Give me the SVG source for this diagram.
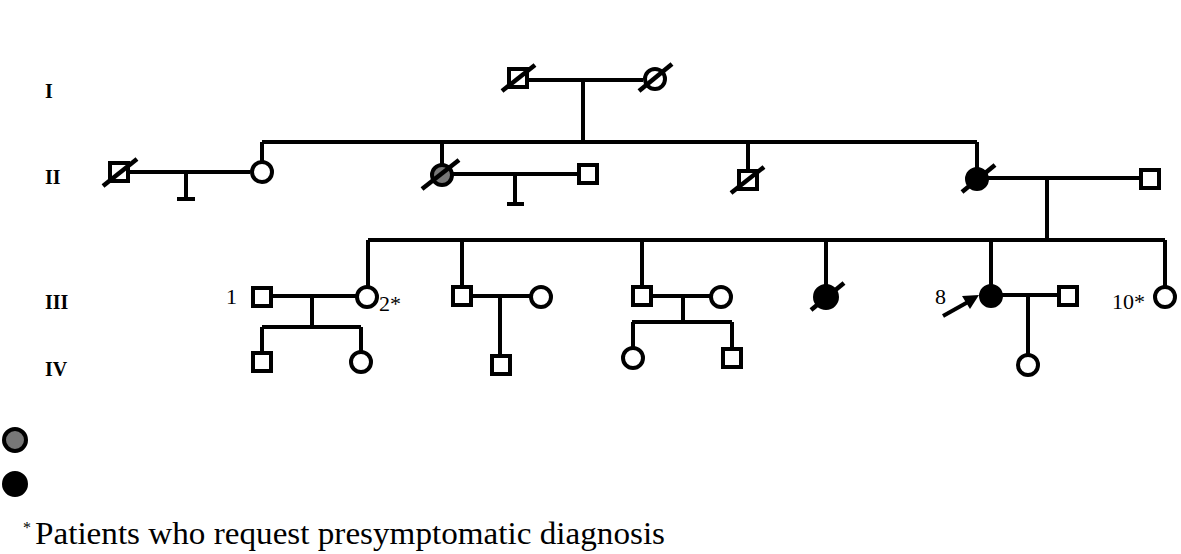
<svg xmlns="http://www.w3.org/2000/svg" width="1181" height="554" viewBox="0 0 1181 554">
<style>
.ln{stroke:#000;stroke-width:4;fill:none;stroke-linecap:butt}
.m{fill:#fff;stroke:#000;stroke-width:4}
.f{fill:#fff;stroke:#000;stroke-width:4}
.g{fill:#777;stroke:#000;stroke-width:4}
.b{fill:#000;stroke:#000;stroke-width:4}
.sl{stroke:#000;stroke-width:4.5;stroke-linecap:butt}
.gen{font-family:"Liberation Serif","Times New Roman",serif;font-weight:bold;font-size:20px;fill:#000}
.lab{font-family:"Liberation Serif","Times New Roman",serif;font-size:22px;fill:#000}
.leg{font-family:"Liberation Serif","Times New Roman",serif;fill:#000}
</style>
<rect width="1181" height="554" fill="#fff"/>
<g id="generations">
<text class="gen" x="45" y="98">I</text>
<text class="gen" x="45" y="184">II</text>
<text class="gen" x="45" y="309">III</text>
<text class="gen" x="45" y="376">IV</text>
</g>
<g id="connectors">
<path class="ln" d="M528 80 H643 M583 80 V142 M262 142 H977"/>
<path class="ln" d="M128 172 H250 M186 172 V199 M177 199 H195 M262 142 V162"/>
<path class="ln" d="M442 142 V165 M453 174 H577 M515 174 V204 M507 204 H524"/>
<path class="ln" d="M748 142 V171"/>
<path class="ln" d="M977 142 V168 M988 178 H1140 M1047 178 V240 M368 240 H1165"/>
<path class="ln" d="M368 240 V286 M462 240 V286 M642 240 V286 M826 240 V286 M991 240 V285 M1165 240 V286"/>
<path class="ln" d="M272 296 H356 M312 296 V327 M262 327 H361 M262 327 V352 M361 327 V351"/>
<path class="ln" d="M472 296 H530 M500 296 V355"/>
<path class="ln" d="M652 296 H710 M683 296 V322 M632 322 H732 M633 322 V347 M732 322 V349"/>
<path class="ln" d="M1002 295 H1058 M1028 295 V354"/>
<path class="ln" d="M943 316 L968 302"/>
<polygon points="979,295 962,296 970,309" fill="#000"/>
</g>
<g id="I-1"><rect class="m" x="509" y="69" width="18" height="18"/><line class="sl" x1="502" y1="91" x2="535" y2="65"/></g>
<g id="I-2"><circle class="f" cx="655" cy="79" r="10"/><line class="sl" x1="639" y1="91" x2="672" y2="64"/></g>
<g id="II-1"><rect class="m" x="110" y="163" width="18" height="18"/><line class="sl" x1="103" y1="186" x2="137" y2="159"/></g>
<g id="II-2"><circle class="f" cx="262" cy="172" r="10"/></g>
<g id="II-3"><circle class="g" cx="442" cy="175" r="10"/><line class="sl" x1="422" y1="189" x2="459" y2="160"/></g>
<g id="II-4"><rect class="m" x="579" y="165" width="18" height="18"/></g>
<g id="II-5"><rect class="m" x="739" y="171" width="18" height="18"/><line class="sl" x1="731" y1="193" x2="764" y2="167"/></g>
<g id="II-6"><circle class="b" cx="977" cy="179" r="10"/><line class="sl" x1="962" y1="192" x2="995" y2="165"/></g>
<g id="II-7"><rect class="m" x="1141" y="170" width="18" height="18"/></g>
<g id="III-1"><rect class="m" x="253" y="288" width="18" height="18"/><text class="lab" x="226" y="304">1</text></g>
<g id="III-2"><circle class="f" cx="367" cy="297" r="10"/><text class="lab" x="379" y="311">2*</text></g>
<g id="III-3"><rect class="m" x="453" y="287" width="18" height="18"/></g>
<g id="III-4"><circle class="f" cx="541" cy="297" r="10"/></g>
<g id="III-5"><rect class="m" x="633" y="287" width="18" height="18"/></g>
<g id="III-6"><circle class="f" cx="721" cy="297" r="10"/></g>
<g id="III-7"><circle class="b" cx="826" cy="297" r="11"/><line class="sl" x1="811" y1="310" x2="844" y2="283"/></g>
<g id="III-8"><circle class="b" cx="991" cy="296" r="10"/><text class="lab" x="935" y="304">8</text></g>
<g id="III-9"><rect class="m" x="1059" y="287" width="18" height="18"/></g>
<g id="III-10"><circle class="f" cx="1165" cy="297" r="10"/><text class="lab" x="1112" y="309">10*</text></g>
<g id="IV-1"><rect class="m" x="253" y="353" width="18" height="18"/></g>
<g id="IV-2"><circle class="f" cx="361" cy="362" r="10"/></g>
<g id="IV-3"><rect class="m" x="492" y="356" width="18" height="18"/></g>
<g id="IV-4"><circle class="f" cx="633" cy="358" r="10"/></g>
<g id="IV-5"><rect class="m" x="723" y="349" width="18" height="18"/></g>
<g id="IV-6"><circle class="f" cx="1028" cy="365" r="10"/></g>
<g id="legend">
<circle class="g" cx="15" cy="440" r="11"/>
<circle class="b" cx="15" cy="484" r="11"/>
<text class="leg" font-size="16" x="23" y="533">*</text>
<text class="leg" font-size="32" x="35" y="544" textLength="630" lengthAdjust="spacingAndGlyphs">Patients who request presymptomatic diagnosis</text>
</g>
</svg>
